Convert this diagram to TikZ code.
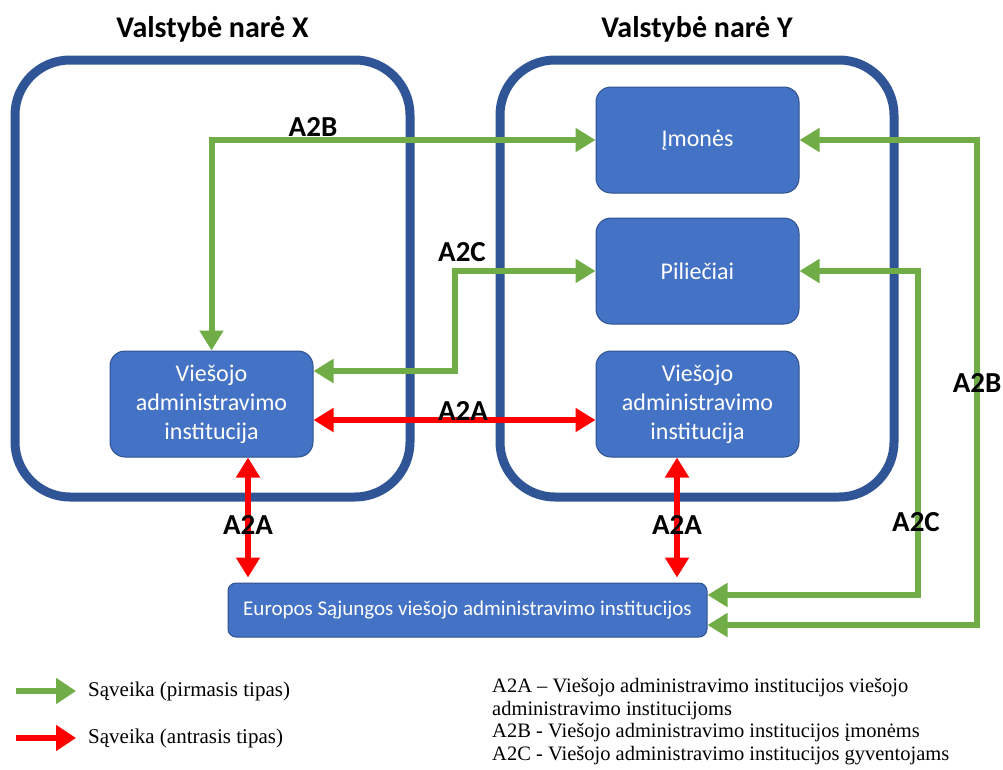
\documentclass[tikz,border=0pt]{standalone}
\usepackage{fontspec}
\setmainfont{Carlito}
\newfontfamily\legendfont{Liberation Serif}
\usetikzlibrary{arrows.meta,positioning}
\definecolor{boxblue}{HTML}{4472C4}
\definecolor{boxedge}{HTML}{2F528F}
\definecolor{framecol}{HTML}{2F5597}
\definecolor{agreen}{HTML}{70AD47}
\definecolor{ared}{HTML}{FF0000}
\tikzset{
  country/.style={draw=framecol, line width=9pt, rounded corners=55pt},
  title/.style={font=\fontsize{30}{32}\selectfont\bfseries},
  inst/.style={draw=boxedge, line width=1pt, fill=boxblue, rounded corners=15pt,
    minimum width=203pt, minimum height=106pt, text=white, align=center,
    font=\fontsize{24}{29}\selectfont},
  lab/.style={font=\fontsize{29}{30}\selectfont\bfseries},
  grnarr/.style={draw=agreen, line width=6pt, {Triangle[length=20pt,width=23pt]}-{Triangle[length=20pt,width=23pt]}},
  redarr/.style={draw=ared, line width=6pt, {Triangle[length=20pt,width=23pt]}-{Triangle[length=20pt,width=23pt]}},
}
\begin{document}
\begin{tikzpicture}[x=1pt,y=-1pt]
\useasboundingbox (0,0) rectangle (1003,769);

% valstybes
\node[country, minimum width=395pt, minimum height=437pt] (boxX) at (212.5,278.5) {};
\node[country, minimum width=394pt, minimum height=437pt] (boxY) at (697,278.5) {};
\node[title, above=10pt of boxX] (ttlX) {Valstybė narė X};
\node[title, above=10pt of boxY] (ttlY) {Valstybė narė Y};

% institucijos
\node[inst] (im) at (697.5,140) {Įmonės};
\node[inst] (pi) at (697.5,271) {Piliečiai};
\node[inst] (vy) at (697.5,404) {Viešojo\\administravimo\\institucija};
\node[inst] (vx) at (211.5,404) {Viešojo\\administravimo\\institucija};
\node[inst, minimum width=479pt, minimum height=54pt, rounded corners=8pt,
  font=\fontsize{21}{24}\selectfont] (eu) at (467.5,610)
  {Europos Sąjungos viešojo administravimo institucijos};

% rodykles
\coordinate (bendC) at (455,371);
\coordinate (bendB) at (977,625);
\coordinate (bendC2) at (918,595);
\draw[grnarr] (vx.north) |- (im.west);
\draw[grnarr] (pi.west) -| (bendC) -- ([yshift=33pt]vx.east);
\draw[redarr] ([yshift=-16pt]vx.east) -- ([yshift=-16pt]vy.west);
\draw[redarr, shorten >=5pt] ([xshift=36.5pt]vx.south) -- ([xshift=36.5pt]vx.south |- eu.north);
\draw[redarr, shorten >=5pt] ([xshift=-20.5pt]vy.south) -- ([xshift=-20.5pt]vy.south |- eu.north);
\draw[grnarr] (im.east) -| (bendB) -- ([yshift=-15pt]eu.east);
\draw[grnarr] (pi.east) -| (bendC2) -- ([yshift=15pt]eu.east);

% zymes
\node[lab] (lA2B) at (313,127) {A2B};
\node[lab] (lA2C) at (462,252) {A2C};
\node[lab] (lA2A) at (463,411) {A2A};
\node[lab] (lA2Ax) at (248,525) {A2A};
\node[lab] (lA2Ay) at (677,525) {A2A};
\node[lab] (lA2Br) at (977,383) {A2B};
\node[lab] (lA2Cr) at (916,522) {A2C};

% legenda
\node[anchor=west, inner sep=0, font=\legendfont\fontsize{21}{22}\selectfont] (lg1) at (88,691) {Sąveika (pirmasis tipas)};
\node[anchor=west, inner sep=0, font=\legendfont\fontsize{21}{22}\selectfont] (lg2) at (88,738) {Sąveika (antrasis tipas)};
\draw[draw=agreen, line width=6pt, -{Triangle[length=20pt,width=25pt]}] ([xshift=-72pt]lg1.west) -- ([xshift=-12pt]lg1.west);
\draw[draw=ared, line width=6pt, -{Triangle[length=20pt,width=25pt]}] ([xshift=-72pt]lg2.west) -- ([xshift=-12pt]lg2.west);
\node[anchor=north west, inner sep=0, align=left, font=\legendfont\fontsize{20.5}{22.7}\selectfont] (lgr) at (492,678)
  {A2A – Viešojo administravimo institucijos viešojo\\
   administravimo institucijoms\\
   A2B - Viešojo administravimo institucijos įmonėms\\
   A2C - Viešojo administravimo institucijos gyventojams};
\end{tikzpicture}
\end{document}
